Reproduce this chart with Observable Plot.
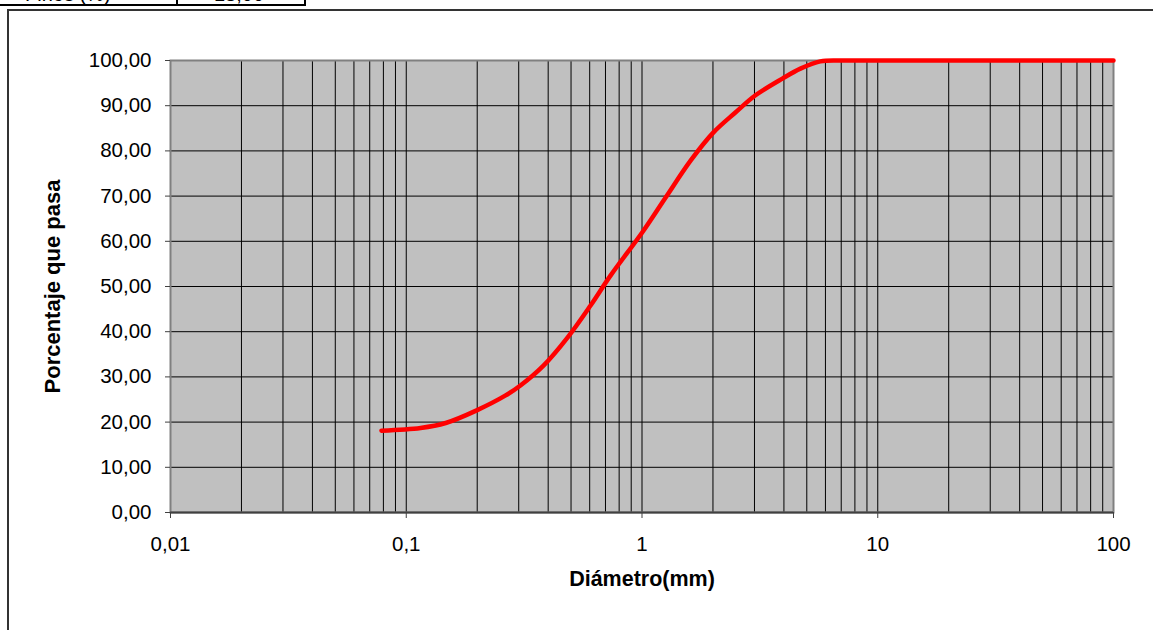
<!DOCTYPE html>
<html>
<head>
<meta charset="utf-8">
<script src="https://cdn.jsdelivr.net/npm/d3@7"></script>
<script src="https://cdn.jsdelivr.net/npm/@observablehq/plot@0.6"></script>
<style>
  html, body { margin: 0; padding: 0; background: #fff; }
  #wrap { position: relative; width: 1153px; height: 630px; overflow: hidden; font-family: "Liberation Sans", Arial, sans-serif; }
  #outer { position: absolute; left: 7px; top: 9px; width: 2000px; height: 2000px; border-left: 2px solid #333; border-top: 2px solid #333; }
  .cell { position: absolute; top: -30px; height: 36px; box-sizing: border-box; border: 2px solid #000; overflow: hidden; background: #fff; }
  .cell span { position: absolute; bottom: 0; line-height: 20px; font-size: 20px; white-space: nowrap; }
  #chart { position: absolute; left: 0; top: 0; }
</style>
</head>
<body>
<div id="wrap">
  <div id="outer"></div>
  <div class="cell" style="left:-2px; width:180px;"><span style="left:25px;">Finos (%)</span></div>
  <div class="cell" style="left:176px; width:130px;"><span style="left:36px;">18,00</span></div>
  <div id="chart"></div>
</div>
<script>
// Grain size distribution (curva granulométrica)
const diametro = [0.0785, 0.115, 0.147, 0.199, 0.264, 0.305, 0.382, 0.483, 0.605, 0.735, 1.0, 1.26, 1.61, 2.01, 2.49, 3.03, 3.94, 4.70, 5.71, 6.95, 10, 100];
const pasa     = [18.1, 18.7, 19.8, 22.6, 25.9, 28.1, 32.5, 38.7, 45.8, 52.4, 61.9, 69.7, 77.9, 84.1, 88.5, 92.3, 96.0, 98.2, 99.8, 100, 100, 100];

const yTicks = [0, 10, 20, 30, 40, 50, 60, 70, 80, 90, 100];
const xMajor = [0.01, 0.1, 1, 10, 100];
const xMajorLabels = ["0,01", "0,1", "1", "10", "100"];
const xMinor = [0.02, 0.03, 0.04, 0.05, 0.06, 0.07, 0.08, 0.09,
                0.2, 0.3, 0.4, 0.5, 0.6, 0.7, 0.8, 0.9,
                2, 3, 4, 5, 6, 7, 8, 9,
                20, 30, 40, 50, 60, 70, 80, 90];
const xTitle = "Diámetro(mm)";
const yTitle = "Porcentaje que pasa";

const data = diametro.map((d, i) => ({d, p: pasa[i]}));

const chart = Plot.plot({
  width: 1153,
  height: 630,
  marginLeft: 170,
  marginRight: 40,
  marginTop: 60,
  marginBottom: 118,
  style: { fontFamily: '"Liberation Sans", Arial, sans-serif', fontSize: "20.5px", background: "transparent", overflow: "visible" },
  x: { type: "log", domain: [0.01, 100] },
  y: { domain: [0, 100] },
  marks: [
    Plot.frame({ fill: "#c0c0c0", stroke: null }),
    Plot.ruleX(xMinor, { stroke: "#000", strokeWidth: 1 }),
    Plot.ruleX(xMajor, { stroke: "#000", strokeWidth: 1 }),
    Plot.ruleY(yTicks, { stroke: "#000", strokeWidth: 1 }),
    Plot.frame({ stroke: "#808080", strokeWidth: 2 }),
    Plot.ruleY([0], { stroke: "#404040", strokeWidth: 2 }),
    Plot.axisY({ ticks: yTicks, tickSize: 5, tickPadding: 14, tickFormat: d => d.toFixed(2).replace(".", ","), label: null, stroke: "#404040", fill: "#000" }),
    Plot.axisX({ ticks: xMajor, tickSize: 6, tickPadding: 18, tickFormat: d => xMajorLabels[xMajor.indexOf(d)], label: null, stroke: "#404040", fill: "#000" }),
    Plot.line(data, { x: "d", y: "p", stroke: "#ff0000", strokeWidth: 4.5, curve: "catmull-rom" }),
    Plot.text([xTitle], { frameAnchor: "bottom", dy: 73, fontWeight: "bold", fontSize: 21.5, fill: "#000" }),
    Plot.text([yTitle], { frameAnchor: "left", textAnchor: "middle", dx: -118, rotate: -90, fontWeight: "bold", fontSize: 22, fill: "#000" })
  ]
});
document.getElementById("chart").appendChild(chart);
</script>
</body>
</html>
